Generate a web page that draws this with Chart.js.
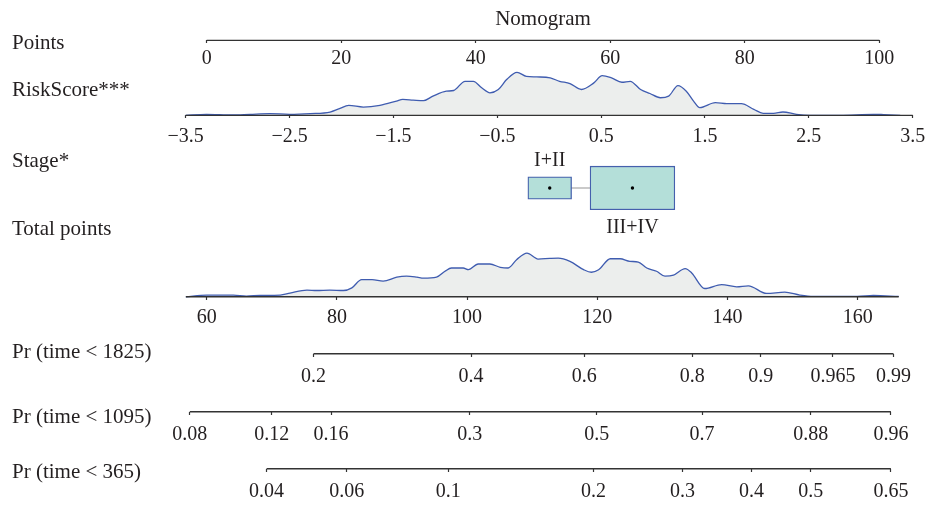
<!DOCTYPE html>
<html>
<head>
<meta charset="utf-8">
<script src="https://cdn.jsdelivr.net/npm/chart.js@4"></script>
<style>
  html, body { margin: 0; padding: 0; background: #fff; }
  #nomogram { display: block; }
</style>
</head>
<body>
<canvas id="nomogram" width="928" height="505"></canvas>
<script>
// ---- data ----
const rowLabels = ["Points", "RiskScore***", "Stage*", "Total points",
  "Pr (time < 1825)", "Pr (time < 1095)", "Pr (time < 365)"];

const pointsTicks = [0, 20, 40, 60, 80, 100];

const riskTicks = [-3.5, -2.5, -1.5, -0.5, 0.5, 1.5, 2.5, 3.5];
const riskTickLabels = ["−3.5", "−2.5", "−1.5", "−0.5", "0.5", "1.5", "2.5", "3.5"];
const riskScore = [-3.5, -3.3, -3.05, -2.88, -2.69, -2.5, -2.3, -2.11, -2.02, -1.93,
  -1.79, -1.63, -1.47, -1.41, -1.31, -1.21, -1.12, -0.99, -0.92, -0.81,
  -0.73, -0.65, -0.57, -0.49, -0.41, -0.31, -0.22, -0.12, 0.01, 0.10,
  0.20, 0.31, 0.43, 0.51, 0.60, 0.70, 0.78, 0.88, 0.97, 1.07,
  1.15, 1.24, 1.32, 1.39, 1.45, 1.60, 1.71, 1.85, 1.97, 2.06,
  2.16, 2.25, 2.38, 2.51, 2.80, 3.12, 3.22, 3.38];
const riskDensity = [0, 0.010, 0.003, 0.010, 0.017, 0.010, 0.017, 0.033, 0.067, 0.100,
  0.083, 0.100, 0.143, 0.160, 0.153, 0.147, 0.193, 0.243, 0.250, 0.343,
  0.343, 0.277, 0.227, 0.260, 0.360, 0.433, 0.393, 0.387, 0.377, 0.343,
  0.320, 0.260, 0.327, 0.400, 0.377, 0.333, 0.343, 0.260, 0.220, 0.177,
  0.193, 0.300, 0.243, 0.143, 0.077, 0.127, 0.117, 0.117, 0.060, 0.020,
  0.020, 0.033, 0.010, 0, 0, 0.010, 0.007, 0];

const stageLabels = ["I+II", "III+IV"];
const stagePoints = [51.0, 63.3];
const stageShare = [0.21, 0.79];

const totalTicks = [60, 80, 100, 120, 140, 160];
const totalPoints = [56.8, 60.0, 64.1, 66.1, 68.2, 71.3, 72.8, 75.4, 76.9, 78.9,
  81.0, 82.3, 83.8, 85.4, 87.1, 89.2, 90.7, 92.3, 93.3, 95.3,
  96.6, 97.6, 99.4, 100.2, 101.7, 103.5, 105.1, 106.3, 107.6, 109.2,
  110.9, 112.7, 114.0, 115.8, 117.9, 119.1, 120.2, 122.0, 123.5, 125.0,
  126.3, 127.6, 129.1, 130.4, 131.7, 133.5, 134.5, 136.5, 139.1, 141.4,
  143.2, 146.0, 148.8, 151.1, 153.2, 159.9, 162.4, 166.3];
const totalDensity = [0, 0.017, 0.017, 0.007, 0.013, 0.017, 0.037, 0.067, 0.063, 0.067,
  0.063, 0.090, 0.173, 0.173, 0.157, 0.197, 0.207, 0.197, 0.187, 0.197,
  0.257, 0.290, 0.290, 0.273, 0.330, 0.330, 0.297, 0.290, 0.373, 0.440,
  0.380, 0.387, 0.390, 0.357, 0.273, 0.247, 0.273, 0.383, 0.383, 0.357,
  0.350, 0.290, 0.257, 0.207, 0.217, 0.283, 0.240, 0.083, 0.123, 0.100,
  0.110, 0.033, 0.047, 0.017, 0.003, 0.003, 0.013, 0.003];

// probability ticks, placed at the total points where they fall
const pr1825Labels = ["0.2", "0.4", "0.6", "0.8", "0.9", "0.965", "0.99"];
const pr1825At = [76.4, 100.6, 118.0, 134.6, 145.1, 156.2, 165.5];
const pr1095Labels = ["0.08", "0.12", "0.16", "0.3", "0.5", "0.7", "0.88", "0.96"];
const pr1095At = [57.4, 70.0, 79.1, 100.4, 119.9, 136.1, 152.8, 165.1];
const pr365Labels = ["0.04", "0.06", "0.1", "0.2", "0.3", "0.4", "0.5", "0.65"];
const pr365At = [69.2, 81.5, 97.1, 119.4, 133.1, 143.7, 152.8, 165.1];

// ---- layout and style ----
const AREA = { left: 166, right: 920, top: 32, bottom: 505 };
const ROW = { points: 40.5, risk: 116, stage: 189.3, total: 299, pr1825: 356.5, pr1095: 415, pr365: 472.5 };
const LABEL_Y = [43.5, 91, 163, 231, 355, 421, 476];
const STAGE_TEXT_Y = [150, 217];
const BOX_W = 95.4, BOX_H = 49.5;
const DENSITY_PX = 100;

const TEXT = "#231f20";
const AXIS = "#333333";
const FAMILY = "'Liberation Serif', 'DejaVu Serif', serif";
const FONT = { family: FAMILY, size: 20, weight: "normal" };
const LABEL_FONT = { family: FAMILY, size: 21, weight: "normal" };

function xSpan(v0, p0, v1, p1) {
  const k = (p1 - p0) / (v1 - v0);
  return { min: v0 - (p0 - AREA.left) / k, max: v0 + (AREA.right - p0) / k };
}
function ySpan(baseline) {
  return { min: -(AREA.bottom - baseline) / DENSITY_PX, max: (baseline - AREA.top) / DENSITY_PX };
}
function noPadding(s) {
  s.paddingLeft = 0; s.paddingRight = 0; s.paddingTop = 0; s.paddingBottom = 0;
}

const pointsSpan = xSpan(0, 206.7, 100, 879.3);
const riskSpan = xSpan(-3.5, 185.7, 3.5, 912.7);
const totalSpan = xSpan(60, 206.7, 160, 857.7);

function rowAxis(span, y, values, labels, pad = 6) {
  return {
    type: "linear", min: span.min, max: span.max, position: { y }, offset: false,
    afterBuildTicks: (s) => { s.ticks = values.map((v) => ({ value: v })); },
    afterFit: noPadding,
    grid: { display: true, offset: false, drawOnChartArea: false, drawTicks: true, tickLength: 3, tickColor: AXIS, tickWidth: 1.2 },
    border: { display: false },
    ticks: { autoSkip: false, maxRotation: 0, minRotation: 0, padding: pad, color: TEXT, font: FONT,
      callback: (v, i) => labels[i] },
  };
}
function textAxis(span, y, values, labels) {
  const a = rowAxis(span, y, values, labels, 0);
  a.grid = { display: false, offset: false, drawTicks: false };
  return a;
}

function axisLine(xAxisID, values, y) {
  return {
    xAxisID, yAxisID: "y", showLine: true, clip: false, order: 5,
    data: [{ x: values[0], y }, { x: values[values.length - 1], y }],
    borderColor: AXIS, borderWidth: 1.3, pointRadius: 0, fill: false,
  };
}
function density(xAxisID, yAxisID, xs, ys) {
  return {
    xAxisID, yAxisID, showLine: true, clip: false, order: 6,
    data: xs.map((x, i) => ({ x, y: ys[i] })),
    borderColor: "#3f5cb0", borderWidth: 1.3, backgroundColor: "#eceeed",
    fill: "origin", cubicInterpolationMode: "monotone", pointRadius: 0,
  };
}

const boxes = stagePoints.map((p, i) => {
  const h = BOX_H * Math.sqrt(stageShare[i]);
  return {
    type: "bar", xAxisID: "xPoints", yAxisID: "y", order: 2,
    data: [{ x: p, y: [ROW.stage - h / 2, ROW.stage + h / 2] }],
    barThickness: BOX_W * Math.sqrt(stageShare[i]), grouped: false,
    backgroundColor: "#b4dfd9", borderColor: "#4560ad", borderWidth: 1.3, borderSkipped: false,
  };
});

new Chart(document.getElementById("nomogram"), {
  type: "scatter",
  data: {
    datasets: [
      density("xRisk", "yRisk", riskScore, riskDensity),
      density("xTotal", "yTotal", totalPoints, totalDensity),
      axisLine("xPoints", pointsTicks, ROW.points),
      axisLine("xRisk", riskTicks, ROW.risk),
      axisLine("xTotal", totalPoints, ROW.total),
      axisLine("xPr1825", pr1825At, ROW.pr1825),
      axisLine("xPr1095", pr1095At, ROW.pr1095),
      axisLine("xPr365", pr365At, ROW.pr365),
      {
        xAxisID: "xPoints", yAxisID: "y", showLine: true, order: 3,
        data: stagePoints.map((p) => ({ x: p, y: ROW.stage })),
        borderColor: "#b8b8b8", borderWidth: 1.5, pointRadius: 0,
      },
      ...boxes,
      {
        xAxisID: "xPoints", yAxisID: "y", order: 1,
        data: stagePoints.map((p) => ({ x: p, y: ROW.stage })),
        pointRadius: 1.7, pointBackgroundColor: "#000", pointBorderWidth: 0,
      },
    ],
  },
  options: {
    responsive: false,
    animation: false,
    events: [],
    layout: { padding: { left: 12, right: 928 - AREA.right, top: 0, bottom: 0 } },
    plugins: {
      legend: { display: false },
      tooltip: { enabled: false },
      title: { display: true, text: "Nomogram", fullSize: false, color: TEXT, font: LABEL_FONT,
        padding: { top: 6.8, bottom: 0 } },
    },
    scales: {
      y: {
        type: "linear", position: "left", reverse: true, min: AREA.top, max: AREA.bottom,
        afterBuildTicks: (s) => { s.ticks = LABEL_Y.map((v) => ({ value: v })); },
        afterFit: (s) => { s.width = AREA.left - 12; noPadding(s); },
        grid: { display: false, drawTicks: false },
        border: { display: false },
        ticks: { crossAlign: "far", padding: 0, color: TEXT, font: LABEL_FONT, autoSkip: false,
          callback: (v, i) => rowLabels[i] },
      },
      yRisk: { type: "linear", display: false, position: "right", ...ySpan(ROW.risk) },
      yTotal: { type: "linear", display: false, position: "right", ...ySpan(ROW.total) },
      xPoints: rowAxis(pointsSpan, ROW.points, pointsTicks, pointsTicks.map(String), 3),
      xRisk: rowAxis(riskSpan, ROW.risk, riskTicks, riskTickLabels),
      xTotal: rowAxis(totalSpan, ROW.total, totalTicks, totalTicks.map(String), 6),
      xPr1825: rowAxis(totalSpan, ROW.pr1825, pr1825At, pr1825Labels, 8),
      xPr1095: rowAxis(totalSpan, ROW.pr1095, pr1095At, pr1095Labels, 8),
      xPr365: rowAxis(totalSpan, ROW.pr365, pr365At, pr365Labels, 8),
      xStageTop: textAxis(pointsSpan, STAGE_TEXT_Y[0], [stagePoints[0]], [stageLabels[0]]),
      xStageBottom: textAxis(pointsSpan, STAGE_TEXT_Y[1], [stagePoints[1]], [stageLabels[1]]),
    },
  },
});
</script>
</body>
</html>
